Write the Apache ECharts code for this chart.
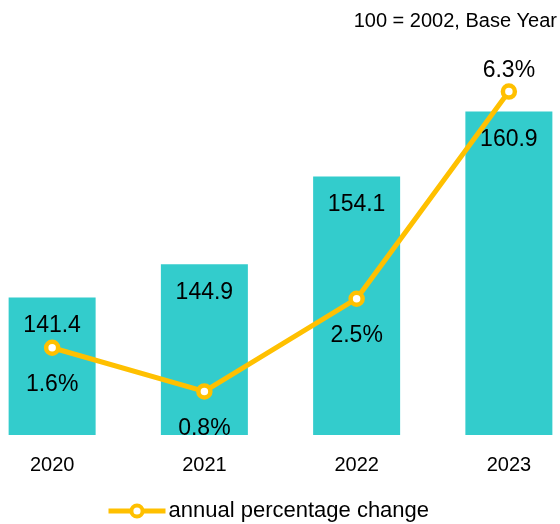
<!DOCTYPE html>
<html>
<head>
<meta charset="utf-8">
<script src="https://cdn.jsdelivr.net/npm/echarts@6/dist/echarts.min.js"></script>
<style>html,body{margin:0;padding:0;background:#fff;}#c{width:560px;height:524px;}</style>
</head>
<body>
<div id="c"></div>
<script>
var categories = ['2020', '2021', '2022', '2023'];
var indexValues = [141.4, 144.9, 154.1, 160.9];
var pctChange = [1.6, 0.8, 2.5, 6.3];
var titleText = '100 = 2002, Base Year';
var lineName = 'annual percentage change';

var FONT = '"Liberation Sans", Arial, sans-serif';
var chart = echarts.init(document.getElementById('c'), null, {renderer: 'canvas'});
chart.setOption({
  animation: false,
  backgroundColor: '#fff',
  title: {
    text: titleText, right: 3, top: 11, padding: 0,
    textStyle: {fontFamily: FONT, fontSize: 20, fontWeight: 'normal', color: '#000'}
  },
  legend: {
    left: 106, top: 500, padding: 0, itemWidth: 57, itemHeight: 14,
    data: [lineName],
    lineStyle: {width: 5, color: '#FFC000'},
    itemStyle: {color: '#fff', borderColor: '#FFC000', borderWidth: 4},
    textStyle: {fontFamily: FONT, fontSize: 22, color: '#000', padding: [0,0,0,-2]}
  },
  grid: {left: -24, right: -25, top: 53.4, bottom: 89, outerBoundsMode: 'none', containLabel: false},
  xAxis: {
    type: 'category', data: categories,
    axisLine: {show: false}, axisTick: {show: false},
    axisLabel: {fontFamily: FONT, fontSize: 20, color: '#000', margin: 20}
  },
  yAxis: [
    {type: 'value', min: 127, max: 167, show: false, splitLine: {show: false}},
    {type: 'value', min: 0, max: 7, show: false, splitLine: {show: false}}
  ],
  series: [
    {
      type: 'bar', data: indexValues, barWidth: 87, yAxisIndex: 0,
      itemStyle: {color: '#33CCCC'},
      label: {show: true, position: 'insideTop', distance: 16.5, fontFamily: FONT, fontSize: 23, lineHeight: 23, color: '#000'}
    },
    {
      type: 'line', name: lineName, yAxisIndex: 1,
      data: pctChange.map(function (v, i) {
        return i === 3 ? {value: v, label: {position: 'top', distance: 1.5}} : v;
      }),
      lineStyle: {color: '#FFC000', width: 5},
      itemStyle: {color: '#fff', borderColor: '#FFC000', borderWidth: 4.5},
      symbol: 'circle', symbolSize: 12,
      label: {show: true, position: 'bottom', distance: 17.5, fontFamily: FONT, fontSize: 23, lineHeight: 23, color: '#000',
        formatter: function (p) { return p.value.toFixed(1) + '%'; }}
    }
  ]
});
</script>
</body>
</html>
